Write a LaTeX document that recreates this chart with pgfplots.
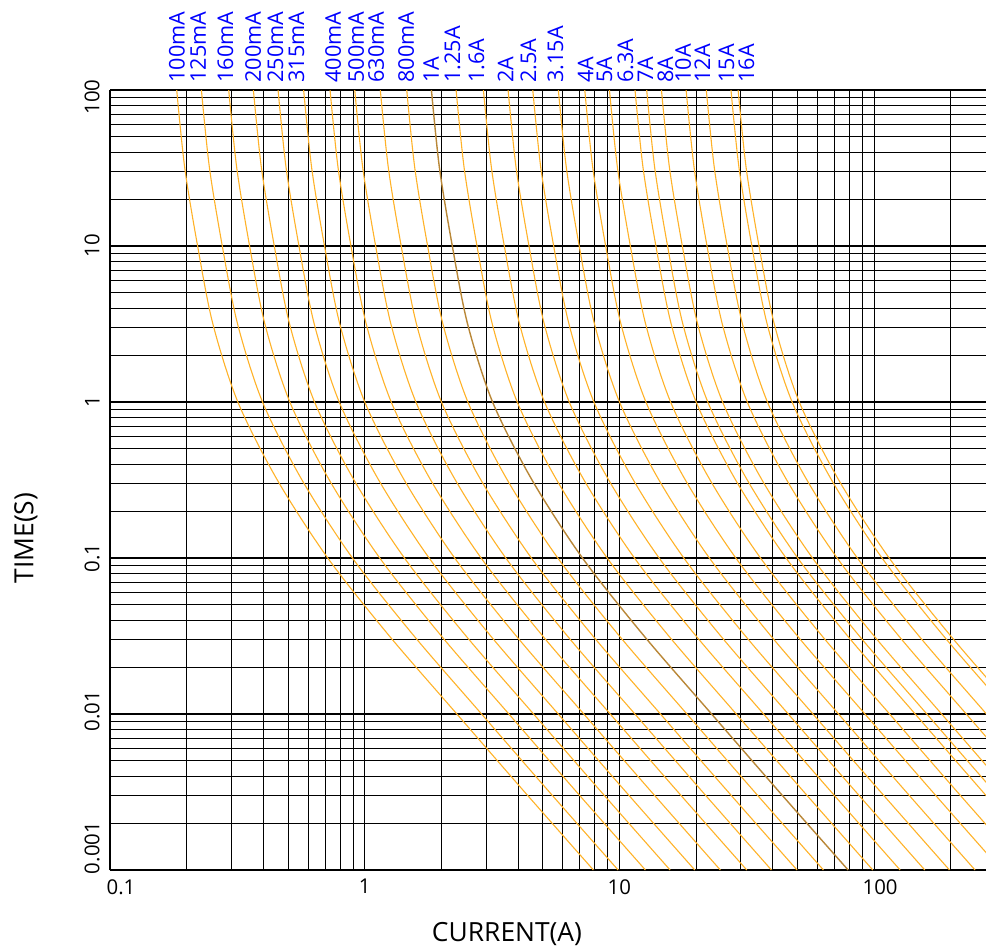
\documentclass[border=0pt]{standalone}
\usepackage{fontspec}
\setmainfont{Open Sans}
\usepackage{pgfplots}
\usepackage{pgfplotstable}
\pgfplotsset{compat=1.18}

\definecolor{fuse}{RGB}{255,178,40}
\definecolor{fusedark}{RGB}{185,135,55}

% time-current curves, one column per fuse rating (current in A)
\pgfplotstableread{
t m100 m125 m160 m200 m250 m315 m400 m500 m630 m800 A1 A1p25 A1p6 A2 A2p5 A3p15 A4 A5 A6p3 A7 A8 A10 A12 A15 A16
100 0.1828 0.2285 0.2925 0.3656 0.4570 0.5758 0.7312 0.9140 1.1516 1.4624 1.828 2.285 2.9248 3.656 4.570 5.758 7.312 9.140 11.516 12.796 14.624 18.28 21.936 27.42 29.248
31.62 0.1966 0.2458 0.3146 0.3932 0.4915 0.6193 0.7864 0.9830 1.2386 1.5728 1.966 2.4575 3.1456 3.932 4.915 6.193 7.864 9.830 12.386 13.762 15.728 19.66 23.592 29.49 31.456
10 0.2208 0.2760 0.3533 0.4416 0.5520 0.6955 0.8832 1.1040 1.3910 1.7664 2.208 2.760 3.5328 4.416 5.520 6.955 8.832 11.04 13.910 15.456 17.664 22.08 26.496 33.12 35.328
3.162 0.2535 0.3169 0.4056 0.5070 0.6338 0.7985 1.0140 1.2675 1.5970 2.0280 2.535 3.1688 4.056 5.070 6.3375 7.985 10.14 12.675 15.97 17.745 20.28 25.35 30.42 38.025 40.56
1 0.3177 0.3971 0.5083 0.6354 0.7943 1.0008 1.2708 1.5885 2.0015 2.5416 3.177 3.9713 5.0832 6.354 7.9425 10.008 12.708 15.885 20.015 22.239 25.416 31.77 38.124 47.655 50.832
0.3162 0.4539 0.5674 0.7262 0.9078 1.1348 1.4298 1.8156 2.2695 2.8596 3.6312 4.539 5.6738 7.2624 9.078 11.348 14.298 18.156 22.695 28.596 31.773 36.312 45.39 54.468 68.085 72.624
0.1 0.7161 0.8951 1.1458 1.4322 1.7903 2.2557 2.8644 3.5805 4.5114 5.7288 7.161 8.9513 11.458 14.322 17.903 22.557 28.644 35.805 45.114 50.127 57.288 71.61 85.932 107.415 114.576
0.03162 1.250 1.5625 2.000 2.500 3.125 3.9375 5.000 6.250 7.875 10.00 12.50 15.625 20.00 25.00 31.25 39.375 50.00 62.50 78.75 87.50 100.0 125.0 150.0 187.5 200.0
0.01 2.301 2.876 3.682 4.602 5.7525 7.248 9.204 11.505 14.496 18.408 23.01 28.763 36.816 46.02 57.525 72.48 92.04 115.05 144.96 161.07 184.08 230.1 276.12 345.15 368.16
0.003162 4.246 5.308 6.794 8.492 10.615 13.375 16.984 21.23 26.75 33.968 42.46 53.075 67.936 84.92 106.15 133.75 169.84 212.3 267.5 297.22 339.68 424.6 509.52 636.9 679.36
0.001 7.907 9.884 12.651 15.814 19.768 24.907 31.628 39.535 49.814 63.256 79.07 98.838 126.51 158.14 197.68 249.07 316.28 395.35 498.14 553.49 632.56 790.7 948.84 1186.05 1265.12
}\fusetab

\tikzset{lbl/.style={rotate=90, anchor=west, text=blue, inner sep=3.5pt,
  font=\fontsize{10.8}{12}\selectfont}}

\begin{document}
\begin{tikzpicture}
\useasboundingbox (-55pt,-39.5pt) rectangle (438pt,435pt);
\begin{axis}[
  scale only axis, width=438pt, height=390pt,
  xmode=log, ymode=log,
  xmin=0.1, xmax=275, ymin=0.001, ymax=100,
  axis x line*=bottom, axis y line*=left,
  axis line style={black, line width=0.8pt},
  clip mode=individual,
  grid=both,
  major grid style={black, line width=0.6pt},
  minor grid style={black, line width=0.5pt},
  major tick length=0pt, minor tick length=0pt,
  xtick={0.1,1,10,100},
  xticklabels={\hspace*{11pt}0.1,1,10,\hspace*{6pt}100},
  minor xtick={0.2,0.3,0.4,0.5,0.6,0.7,0.8,0.9,2,3,4,5,6,7,8,9,20,30,40,50,60,70,80,90,200},
  ytick={0.001,0.01,0.1,1,10,100},
  yticklabels={\hspace*{22pt}0.001,\hspace*{3pt}0.01,0.1,1,10,100\hspace*{7pt}},
  minor ytick={0.002,0.003,0.004,0.005,0.006,0.007,0.008,0.009,
    0.02,0.03,0.04,0.05,0.06,0.07,0.08,0.09,
    0.2,0.3,0.4,0.5,0.6,0.7,0.8,0.9,
    2,3,4,5,6,7,8,9,20,30,40,50,60,70,80,90},
  /pgf/number format/assume math mode=true,
  ticklabel style={font=\fontsize{10.2}{12}\selectfont},
  xticklabel style={anchor=north, inner sep=0pt},
  xticklabel shift=4.5pt,
  yticklabel style={rotate=90, anchor=south, inner sep=0pt},
  yticklabel shift=5pt,
  xlabel={CURRENT(A)},
  ylabel={TIME(S)},
  label style={font=\fontsize{13.2}{15}\selectfont},
  xlabel style={at={(axis description cs:0.4532,-0.082)}, anchor=center},
  ylabel style={at={(axis description cs:-0.0959,0.4256)}, anchor=center},
]
\pgfplotsinvokeforeach{m100,m125,m160,m200,m250,m315,m400,m500,m630,m800,A1p25,A1p6,A2,A2p5,A3p15,A4,A5,A6p3,A7,A8,A10,A12,A15,A16}{
  \addplot[fuse, line width=0.55pt, smooth] table[x=#1, y=t] {\fusetab};
}
\addplot[fusedark, line width=0.7pt, smooth] table[x=A1, y=t] {\fusetab};

\node[lbl] at (axis cs:0.183,100) {100mA};
\node[lbl] at (axis cs:0.222,100) {125mA};
\node[lbl] at (axis cs:0.284,100) {160mA};
\node[lbl] at (axis cs:0.365,100) {200mA};
\node[lbl] at (axis cs:0.446,100) {250mA};
\node[lbl] at (axis cs:0.539,100) {315mA};
\node[lbl] at (axis cs:0.752,100) {400mA};
\node[lbl] at (axis cs:0.926,100) {500mA};
\node[lbl] at (axis cs:1.11,100) {630mA};
\node[lbl] at (axis cs:1.455,100) {800mA};
\node[lbl] at (axis cs:1.823,100) {1A};
\node[lbl] at (axis cs:2.213,100) {1.25A};
\node[lbl] at (axis cs:2.748,100) {1.6A};
\node[lbl] at (axis cs:3.573,100) {2A};
\node[lbl] at (axis cs:4.395,100) {2.5A};
\node[lbl] at (axis cs:5.61,100) {3.15A};
\node[lbl] at (axis cs:7.36,100) {4A};
\node[lbl] at (axis cs:8.73,100) {5A};
\node[lbl] at (axis cs:10.56,100) {6.3A};
\node[lbl] at (axis cs:12.65,100) {7A};
\node[lbl] at (axis cs:15.14,100) {8A};
\node[lbl] at (axis cs:17.8,100) {10A};
\node[lbl] at (axis cs:21.15,100) {12A};
\node[lbl] at (axis cs:26.3,100) {15A};
\node[lbl] at (axis cs:31.5,100) {16A};
\end{axis}
\end{tikzpicture}
\end{document}
